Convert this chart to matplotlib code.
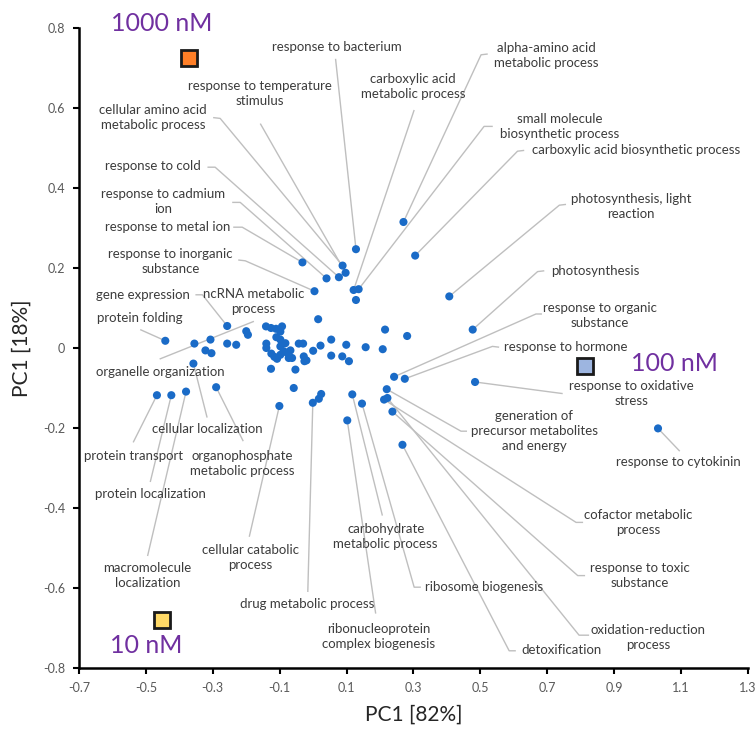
import matplotlib
matplotlib.use('Agg')
import matplotlib.pyplot as plt

plt.rcParams['font.family'] = ['Lato', 'DejaVu Sans']
plt.rcParams['font.size'] = 9

# PCA scores of the enriched GO terms
pc1 = [0.128, -0.032, 0.088, 0.097, 0.040, 0.077, 0.004, 0.121, 0.136, 0.128,
       0.015, 0.270, 0.305, 0.407, 0.477, 0.215, 0.281, 0.208, 0.157, 0.099,
       0.054, 0.022, 0.000, -0.030, -0.043, -0.028, -0.020, -0.026, 0.054, 0.087,
       0.107, -0.053, -0.058, -0.101, -0.001, 0.017, 0.024, 0.117, 0.146, 0.102,
       0.242, 0.274, 0.220, 0.212, 0.222, 0.237, 0.267, 0.484, 1.031, -0.442,
       -0.355, -0.307, -0.257, -0.230, -0.200, -0.195, -0.322, -0.304, -0.358, -0.467,
       -0.424, -0.380, -0.290, -0.126, -0.257, -0.141, -0.126, -0.111, -0.093, -0.098,
       -0.110, -0.140, -0.140, -0.125, -0.116, -0.108, -0.098, -0.083, -0.078, -0.073,
       -0.063, -0.088, -0.098, -0.068, -0.098]
pc2 = [0.247, 0.214, 0.206, 0.188, 0.174, 0.177, 0.142, 0.145, 0.147, 0.120,
       0.072, 0.315, 0.231, 0.129, 0.046, 0.046, 0.030, -0.003, 0.002, 0.008,
       0.021, 0.006, -0.007, 0.011, 0.011, -0.021, -0.031, -0.033, -0.019, -0.021,
       -0.033, -0.054, -0.100, -0.145, -0.137, -0.127, -0.115, -0.116, -0.139, -0.181,
       -0.072, -0.077, -0.103, -0.129, -0.125, -0.159, -0.242, -0.085, -0.201, 0.018,
       0.011, 0.021, 0.011, 0.008, 0.042, 0.033, -0.006, -0.013, -0.039, -0.118,
       -0.118, -0.109, -0.098, -0.052, 0.055, 0.054, 0.050, 0.048, 0.054, 0.041,
       0.027, 0.011, 0.000, -0.014, -0.022, -0.027, 0.004, 0.012, -0.012, -0.025,
       -0.025, -0.008, 0.021, -0.006, -0.017]

# treatment loadings
doses = ['1000 nM', '100 nM', '10 nM']
dose_pc1 = [-0.370, 0.813, -0.452]
dose_pc2 = [0.725, -0.046, -0.681]
dose_colors = ['#FF7F27', '#9DB5E0', '#FFD966']
dose_text_xy = [(-0.454, 0.812), (1.080, -0.040), (-0.499, -0.745)]

# term label, label centre, leader path (from label side), index of the point
terms = [
    ('response to bacterium', (0.070, 0.753), [(0.067, 0.723)], 0),
    ('response to temperature\nstimulus', (-0.158, 0.636), [(-0.158, 0.561)], 3),
    ('cellular amino acid\nmetabolic process', (-0.478, 0.576), [(-0.299, 0.576), (-0.278, 0.574)], 2),
    ('response to cold', (-0.478, 0.454), [(-0.316, 0.452), (-0.293, 0.452)], 5),
    ('response to cadmium\nion', (-0.448, 0.365), [(-0.242, 0.364), (-0.218, 0.364)], 4),
    ('response to metal ion', (-0.436, 0.302), [(-0.239, 0.302), (-0.212, 0.302)], 1),
    ('response to inorganic\nsubstance', (-0.427, 0.217), [(-0.224, 0.220), (-0.203, 0.218)], 6),
    ('gene expression', (-0.508, 0.133), [(-0.352, 0.133), (-0.331, 0.133)], 64),
    ('protein folding', (-0.517, 0.076), [(-0.517, 0.046)], 49),
    ('cellular localization', (-0.317, -0.203), [(-0.317, -0.174)], 58),
    ('protein transport', (-0.538, -0.271), [(-0.538, -0.236)], 59),
    ('organophosphate\nmetabolic process', (-0.213, -0.289), [(-0.209, -0.233)], 62),
    ('protein localization', (-0.487, -0.365), [(-0.487, -0.335)], 60),
    ('macromolecule\nlocalization', (-0.495, -0.570), [(-0.495, -0.520)], 61),
    ('cellular catabolic\nprocess', (-0.188, -0.525), [(-0.191, -0.472)], 33),
    ('drug metabolic process', (-0.018, -0.640), [(-0.016, -0.610)], 34),
    ('ribonucleoprotein\ncomplex biogenesis', (0.196, -0.722), [(0.187, -0.664)], 39),
    ('carbohydrate\nmetabolic process', (0.217, -0.472), [(0.207, -0.419)], 37),
    ('ribosome biogenesis', (0.511, -0.598), [(0.322, -0.598), (0.302, -0.598)], 38),
    ('detoxification', (0.741, -0.756), [(0.606, -0.757), (0.586, -0.757)], 46),
    ('oxidation-reduction\nprocess', (1.001, -0.723), [(0.825, -0.718), (0.795, -0.718)], 44),
    ('response to toxic\nsubstance', (0.976, -0.569), [(0.813, -0.569), (0.791, -0.569)], 45),
    ('cofactor metabolic\nprocess', (0.971, -0.436), [(0.807, -0.436), (0.786, -0.436)], 43),
    ('generation of\nprecursor metabolites\nand energy', (0.661, -0.208), [(0.460, -0.208), (0.442, -0.208)], 42),
    ('response to oxidative\nstress', (0.951, -0.115), [(0.746, -0.114)], 47),
    ('response to cytokinin', (1.091, -0.286), [(1.096, -0.258)], 48),
    ('response to hormone', (0.756, 0.002), [(0.556, 0.002), (0.536, 0.004)], 41),
    ('response to organic\nsubstance', (0.856, 0.082), [(0.684, 0.085), (0.666, 0.085)], 40),
    ('photosynthesis', (0.844, 0.193), [(0.691, 0.193), (0.671, 0.191)], 14),
    ('photosynthesis, light\nreaction', (0.951, 0.354), [(0.756, 0.359), (0.736, 0.357)], 13),
    ('carboxylic acid biosynthetic process', (0.966, 0.494), [(0.631, 0.494), (0.611, 0.492)], 12),
    ('small molecule\nbiosynthetic process', (0.736, 0.554), [(0.537, 0.554), (0.511, 0.554)], 8),
    ('alpha-amino acid\nmetabolic process', (0.696, 0.731), [(0.522, 0.735), (0.502, 0.733)], 11),
    ('carboxylic acid\nmetabolic process', (0.298, 0.653), [(0.302, 0.595)], 7),
]
# ncRNA label and the free leader next to it
ncrna_label = ('ncRNA metabolic\nprocess', (-0.179, 0.115))
organelle_label = ('organelle organization', (-0.457, -0.059))
organelle_leader = [(-0.457, -0.027), (-0.179, 0.066)]

text_color = '#3c3c3c'
line_color = '#BFBFBF'
label_size = 9.5

fig = plt.figure(figsize=(7.56, 7.31), dpi=100)
ax = fig.add_axes([0.1045, 0.0862, 0.8849, 0.8755])

for text, (lx, ly), path, idx in terms:
    xs = [p[0] for p in path] + [pc1[idx]]
    ys = [p[1] for p in path] + [pc2[idx]]
    ax.plot(xs, ys, color=line_color, lw=1.0, zorder=1, solid_capstyle='butt')
    ax.text(lx, ly, text, ha='center', va='center', multialignment='center',
            color=text_color, fontsize=label_size, linespacing=1.3, zorder=4)

ax.plot([p[0] for p in organelle_leader], [p[1] for p in organelle_leader],
        color=line_color, lw=1.0, zorder=1)
for text, (lx, ly) in [ncrna_label, organelle_label]:
    ax.text(lx, ly, text, ha='center', va='center', multialignment='center',
            color=text_color, fontsize=label_size, linespacing=1.3, zorder=4)

ax.scatter(pc1, pc2, s=34, color='#1A6BC7', edgecolors='none', zorder=3)

for name, x, y, c, (tx, ty) in zip(doses, dose_pc1, dose_pc2, dose_colors, dose_text_xy):
    ax.plot(x, y, marker='s', ms=12, mfc=c, mec='#1a1a1a', mew=2.0, zorder=5)
    ax.text(tx, ty, name, color='#7030A0', fontsize=18, ha='center', va='center', zorder=5)

ax.set_xlim(-0.7, 1.3)
ax.set_ylim(-0.8, 0.8)
ax.set_xticks([-0.7, -0.5, -0.3, -0.1, 0.1, 0.3, 0.5, 0.7, 0.9, 1.1, 1.3])
ax.set_yticks([-0.8, -0.6, -0.4, -0.2, 0, 0.2, 0.4, 0.6, 0.8])
ax.set_xticklabels(['-0.7', '-0.5', '-0.3', '-0.1', '0.1', '0.3', '0.5', '0.7', '0.9', '1.1', '1.3'])
ax.set_yticklabels(['-0.8', '-0.6', '-0.4', '-0.2', '0', '0.2', '0.4', '0.6', '0.8'])
ax.tick_params(direction='out', length=4, width=1.5, colors='black',
               labelcolor='#595959', labelsize=9, pad=6)

for side in ['top', 'right']:
    ax.spines[side].set_visible(False)
for side in ['left', 'bottom']:
    ax.spines[side].set_linewidth(1.8)
    ax.spines[side].set_color('black')

ax.set_xlabel('PC1 [82%]', fontsize=15, color='#262626', labelpad=8)
ax.set_ylabel('PC1 [18%]', fontsize=15, color='#262626', labelpad=8)

fig.savefig('out.png', dpi=100)
